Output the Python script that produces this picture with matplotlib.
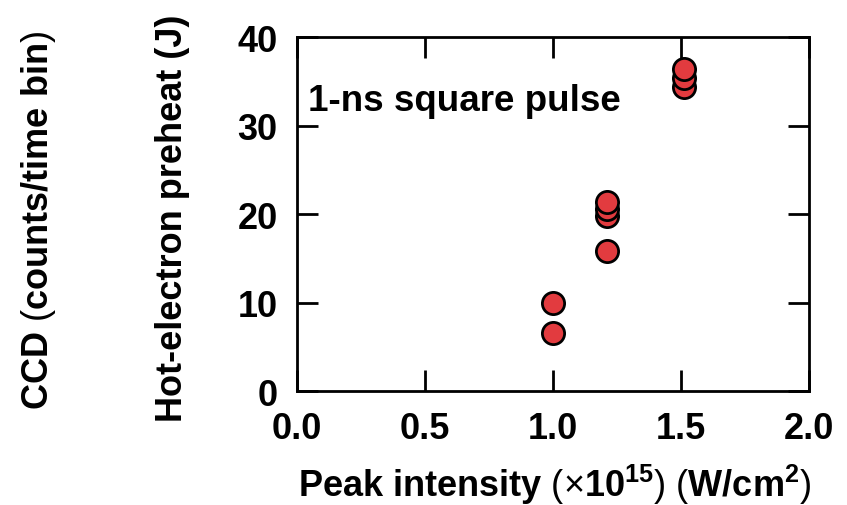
import matplotlib
matplotlib.use("Agg")
import matplotlib.pyplot as plt

plt.rcParams['font.family'] = ['Liberation Sans', 'DejaVu Sans']
plt.rcParams['mathtext.fontset'] = 'custom'
plt.rcParams['mathtext.rm'] = 'Liberation Sans'
plt.rcParams['mathtext.bf'] = 'Liberation Sans:bold'
plt.rcParams['mathtext.it'] = 'Liberation Sans:italic'

# Data
intensity = [1.0, 1.0, 1.21, 1.21, 1.21, 1.21, 1.51, 1.51, 1.51]
preheat = [10.0, 6.6, 15.8, 19.8, 20.6, 21.4, 34.4, 35.4, 36.4]
xticks = [0.0, 0.5, 1.0, 1.5, 2.0]
xticklabels = ["0.0", "0.5", "1.0", "1.5", "2.0"]
yticks = [0, 10, 20, 30, 40]

W, H = 847, 506
fig = plt.figure(figsize=(W/100, H/100), dpi=100)
ax = fig.add_axes([297/W, 1-392.3/H, (809-297)/W, (392.3-38)/H])

ax.plot(intensity, preheat, 'o', markersize=16, markerfacecolor='#e23b3f',
        markeredgecolor='black', markeredgewidth=2, clip_on=False, zorder=3)

ax.set_xlim(0, 2)
ax.set_ylim(0, 40)
ax.set_xticks(xticks)
ax.set_xticklabels(xticklabels)
ax.set_yticks(yticks)
for s in ax.spines.values():
    s.set_linewidth(2)
ax.tick_params(direction='in', length=15, width=2, top=True, right=True,
               labelsize=26)
ax.tick_params(axis='y', pad=14)
ax.tick_params(axis='x', pad=14)
for lab in ax.get_xticklabels() + ax.get_yticklabels():
    lab.set_fontweight('bold')

ax.text(0.022, 0.82, "1-ns square pulse", transform=ax.transAxes,
        fontsize=26.5, fontweight='bold', va='center', ha='left')

fig.text(555/W, 1-485/H,
         r"Peak intensity $(\times$10$^{\mathbf{15}})$ $($W/cm$^{\mathbf{2}})$",
         fontsize=26, fontweight='bold', ha='center', va='center')
fig.text(172/W, 1-218/H, "Hot-electron preheat (J)", rotation=90,
         fontsize=26, fontweight='bold', ha='center', va='center')
fig.text(39/W, 1-220/H, r"CCD $($counts/time bin$)$", rotation=90,
         fontsize=26, fontweight='bold', ha='center', va='center')

fig.savefig("out.png", dpi=100)
